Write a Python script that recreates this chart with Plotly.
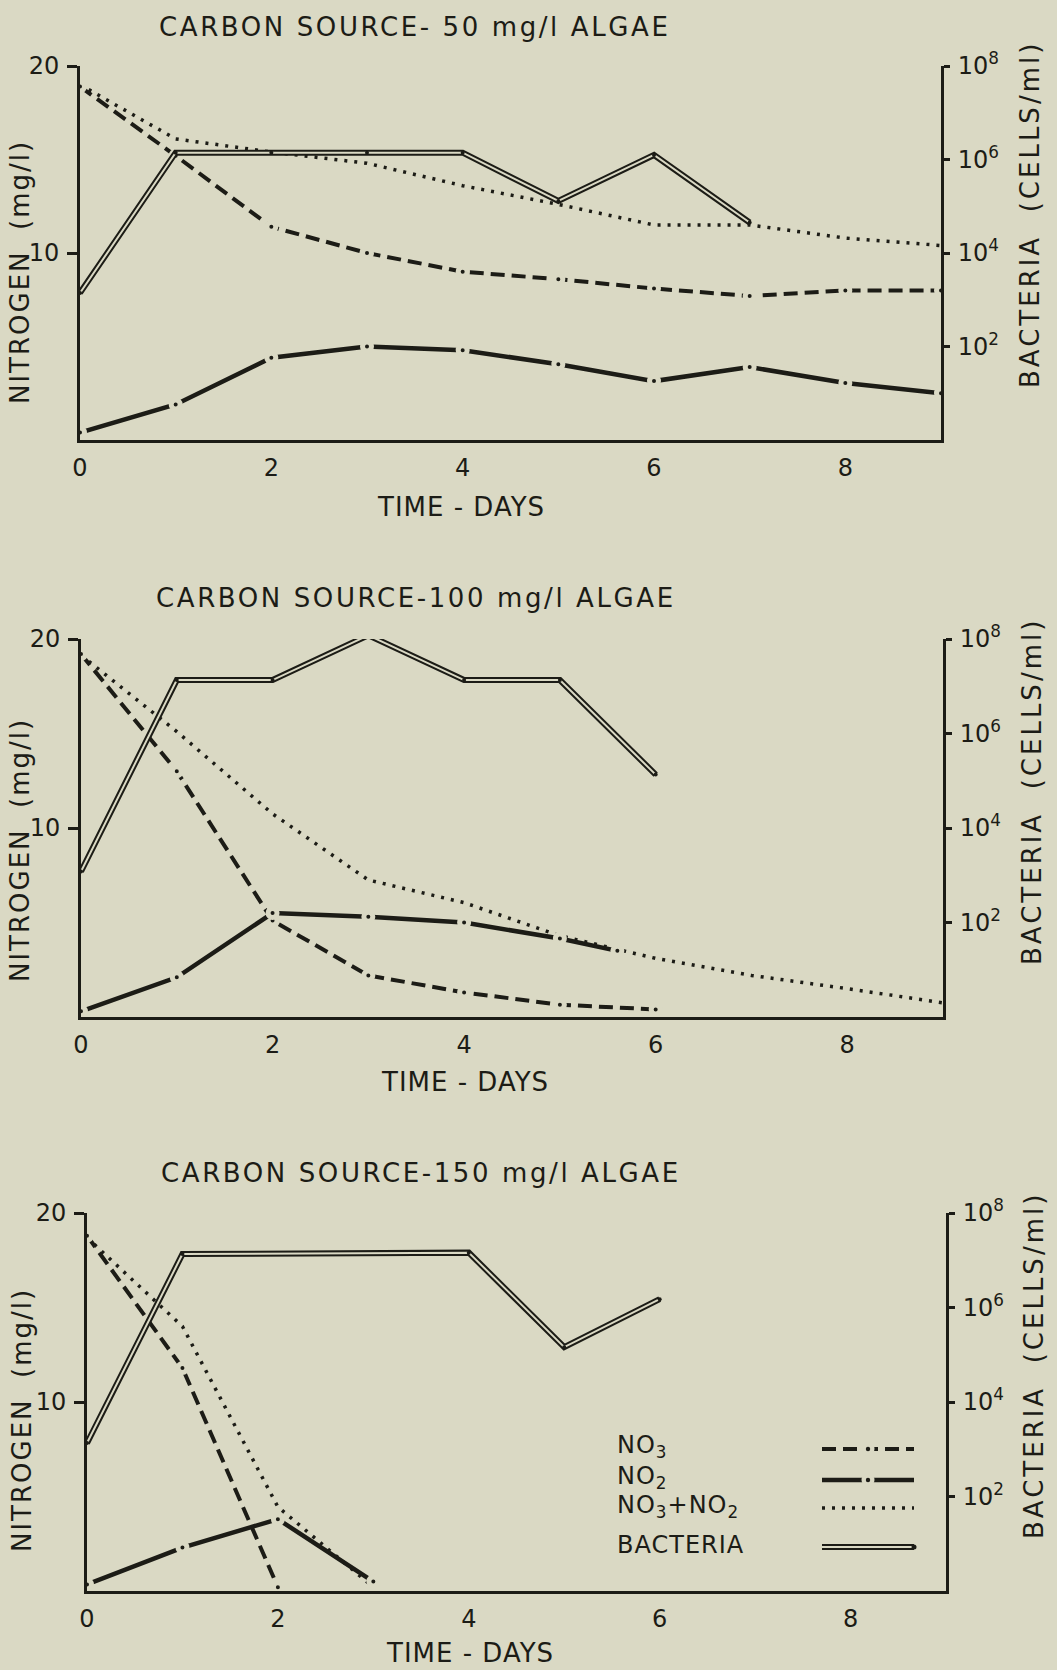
import plotly.graph_objects as go

# ---------------- data ----------------
# Carbon source 50 mg/l algae
days_50 = [0, 1, 2, 3, 4, 5, 6, 7, 8, 9]
no3_50 = [18.9, 15.2, 11.4, 10.0, 9.0, 8.6, 8.1, 7.7, 8.0, 8.0]
no2_50 = [0.4, 1.9, 4.4, 5.0, 4.8, 4.05, 3.15, 3.9, 3.05, 2.5]
sum_50 = [19.0, 16.1, 15.4, 14.8, 13.6, 12.6, 11.5, 11.5, 10.8, 10.4]
bact_days_50 = [0, 1, 2, 3, 4, 5, 6, 7]
bact_50 = [1.4e3, 1.4e6, 1.4e6, 1.4e6, 1.4e6, 1.3e5, 1.25e6, 4.5e4]

# Carbon source 100 mg/l algae
no3_days_100 = [0, 1, 2, 3, 4, 5, 6]
no3_100 = [19.2, 13.0, 5.1, 2.2, 1.3, 0.65, 0.4]
no2_days_100 = [0, 1, 2, 3, 4, 5, 5.6]
no2_100 = [0.3, 2.1, 5.5, 5.3, 5.0, 4.15, 3.5]
sum_days_100 = [0, 1, 2, 3, 4, 5, 6, 7, 8, 9]
sum_100 = [19.15, 15.1, 10.75, 7.25, 6.05, 4.3, 3.1, 2.2, 1.5, 0.75]
bact_days_100 = [0, 1, 2, 3, 4, 5, 6]
bact_100 = [1.2e3, 1.35e7, 1.35e7, 1.2e8, 1.35e7, 1.35e7, 1.35e5]

# Carbon source 150 mg/l algae
no3_days_150 = [0, 1, 2]
no3_150 = [18.8, 11.8, 0.2]
no2_days_150 = [0, 1, 2, 3]
no2_150 = [0.35, 2.3, 3.8, 0.5]
sum_days_150 = [0, 1, 2, 3]
sum_150 = [18.7, 14.0, 4.45, 0.2]
bact_days_150 = [0, 1, 4, 5, 6]
bact_150 = [1.35e3, 1.35e7, 1.45e7, 1.45e5, 1.5e6]

titles = ["CARBON SOURCE- 50 mg/l ALGAE",
          "CARBON SOURCE-100 mg/l ALGAE",
          "CARBON SOURCE-150 mg/l ALGAE"]
x_ticks = [0, 2, 4, 6, 8]
n_ticks = [10, 20]
b_ticks = [1e2, 1e4, 1e6, 1e8]
b_ticktext = ["10<sup>2</sup>", "10<sup>4</sup>", "10<sup>6</sup>", "10<sup>8</sup>"]
legend_labels = ["NO<sub>3</sub>", "NO<sub>2</sub>",
                 "NO<sub>3</sub>+NO<sub>2</sub>", "BACTERIA"]

# ---------------- styling / geometry ----------------
W, H = 1057, 1670
BG = "#dad9c4"
INK = "#1c1c16"
FONT = "DejaVu Sans"


def fx(px):
    return px / W


def fy(py):
    return 1 - py / H


def spaced(text, ls):
    return f'<span style="letter-spacing:{ls}px">{text}</span>'


# plot frames (pixels): left axis, right axis, top (20 / 1e8), baseline
frames = [
    dict(x0=80, x1=941, top=66, bot=440, title=(414, 27), xlab=(461, 507),
         ylab=(20, 272), blab=(1030, 215)),
    dict(x0=81, x1=943, top=639, bot=1017, title=(416, 598), xlab=(465, 1082),
         ylab=(20, 850), blab=(1032, 792)),
    dict(x0=87, x1=946, top=1213, bot=1591, title=(421, 1173), xlab=(470, 1653),
         ylab=(22, 1420), blab=(1034, 1366)),
]

panels = [
    dict(no3=(days_50, no3_50), no2=(days_50, no2_50), tot=(days_50, sum_50),
         bact=(bact_days_50, bact_50)),
    dict(no3=(no3_days_100, no3_100), no2=(no2_days_100, no2_100),
         tot=(sum_days_100, sum_100), bact=(bact_days_100, bact_100)),
    dict(no3=(no3_days_150, no3_150), no2=(no2_days_150, no2_150),
         tot=(sum_days_150, sum_150), bact=(bact_days_150, bact_150)),
]

vertex_marker = dict(symbol="circle", size=9, color=INK, line=dict(color=BG, width=5))

fig = go.Figure()
layout = dict(
    width=W, height=H, autosize=False,
    margin=dict(l=0, r=0, t=0, b=0, autoexpand=False),
    paper_bgcolor=BG, plot_bgcolor=BG,
    showlegend=False,
    font=dict(family=FONT, color=INK, size=24),
)
annotations = []
shapes = []

for i, (fr, pdata) in enumerate(zip(frames, panels), start=1):
    xa = "x" if i == 1 else f"x{i}"
    yl_idx, yr_idx = 2 * i - 1, 2 * i
    yl = "y" if yl_idx == 1 else f"y{yl_idx}"
    yr = f"y{yr_idx}"
    xkey = "xaxis" if i == 1 else f"xaxis{i}"
    ylkey = "yaxis" if yl_idx == 1 else f"yaxis{yl_idx}"
    yrkey = f"yaxis{yr_idx}"
    ydom = [fy(fr["bot"]), fy(fr["top"])]

    layout[xkey] = dict(
        domain=[fx(fr["x0"]), fx(fr["x1"])], range=[0, 9], anchor=yl,
        showline=True, linewidth=3, linecolor=INK, mirror=False,
        tickvals=x_ticks, ticks="", showgrid=False, zeroline=False,
        tickfont=dict(size=24), ticklabelstandoff=4, fixedrange=True,
    )
    layout[ylkey] = dict(
        domain=ydom, range=[0, 20], anchor=xa,
        showline=True, linewidth=3, linecolor=INK,
        tickvals=n_ticks, ticks="outside", ticklen=10, tickwidth=2.5, tickcolor=INK,
        showgrid=False, zeroline=False, tickfont=dict(size=24),
        ticklabelstandoff=3, fixedrange=True,
    )
    layout[yrkey] = dict(
        overlaying=yl, side="right", anchor=xa, type="log", range=[0, 8],
        showline=True, linewidth=3, linecolor=INK,
        tickvals=b_ticks, ticktext=b_ticktext, ticks="outside", ticklen=6,
        tickwidth=2.5, tickcolor=INK, showgrid=False, zeroline=False,
        tickfont=dict(size=24), ticklabelstandoff=3, fixedrange=True,
    )

    # NO3 + NO2 (dotted)
    fig.add_trace(go.Scatter(
        x=pdata["tot"][0], y=pdata["tot"][1], xaxis=xa, yaxis=yl, mode="lines",
        line=dict(color=INK, width=3.5, dash="3px,7px"), hoverinfo="skip"))
    # NO3 (dashed, dot at each reading)
    fig.add_trace(go.Scatter(
        x=pdata["no3"][0], y=pdata["no3"][1], xaxis=xa, yaxis=yl, mode="lines+markers",
        line=dict(color=INK, width=4, dash="14px,7px"), marker=vertex_marker,
        hoverinfo="skip"))
    # NO2 (heavy line, dot at each reading)
    fig.add_trace(go.Scatter(
        x=pdata["no2"][0], y=pdata["no2"][1], xaxis=xa, yaxis=yl, mode="lines+markers",
        line=dict(color=INK, width=4.5), marker=vertex_marker, hoverinfo="skip"))
    # Bacteria (double line on the log axis)
    fig.add_trace(go.Scatter(
        x=pdata["bact"][0], y=pdata["bact"][1], xaxis=xa, yaxis=yr, mode="lines",
        line=dict(color=INK, width=6), hoverinfo="skip"))
    fig.add_trace(go.Scatter(
        x=pdata["bact"][0], y=pdata["bact"][1], xaxis=xa, yaxis=yr, mode="lines+markers",
        line=dict(color=BG, width=2), marker=dict(size=4, color=INK),
        hoverinfo="skip"))

    tx, ty = fr["title"]
    annotations.append(dict(
        text=spaced(titles[i - 1], 2.6), x=fx(tx), y=fy(ty), xref="paper", yref="paper",
        showarrow=False, xanchor="center", yanchor="middle", font=dict(size=26)))
    lx, ly = fr["xlab"]
    annotations.append(dict(
        text=spaced("TIME - DAYS", 1), x=fx(lx), y=fy(ly), xref="paper", yref="paper",
        showarrow=False, xanchor="center", yanchor="middle", font=dict(size=26)))
    nx, ny = fr["ylab"]
    annotations.append(dict(
        text=spaced("NITROGEN\u00a0\u00a0(mg/l)", 2), x=fx(nx), y=fy(ny),
        xref="paper", yref="paper", textangle=-90,
        showarrow=False, xanchor="center", yanchor="middle", font=dict(size=26)))
    bx, by = fr["blab"]
    annotations.append(dict(
        text=spaced("BACTERIA\u00a0\u00a0(CELLS/ml)", 3), x=fx(bx), y=fy(by),
        xref="paper", yref="paper", textangle=-90,
        showarrow=False, xanchor="center", yanchor="middle", font=dict(size=26)))

# ---------------- key (lower panel) ----------------
key_rows = [1446, 1477, 1506, 1545]
key_x_text = 615
key_x0, key_x1 = 822, 914
for lab, ry in zip(legend_labels, key_rows):
    annotations.append(dict(
        text=spaced(lab, 1), x=fx(key_x_text), y=fy(ry), xref="paper", yref="paper",
        showarrow=False, xanchor="left", yanchor="middle", font=dict(size=24)))


def seg(x0, x1, y, width, dash="solid", color=INK):
    shapes.append(dict(type="line", xref="paper", yref="paper",
                       x0=fx(x0), x1=fx(x1), y0=fy(y), y1=fy(y),
                       line=dict(color=color, width=width, dash=dash)))


def dot(xc, y, r, color):
    shapes.append(dict(type="circle", xref="paper", yref="paper",
                       x0=fx(xc - r), x1=fx(xc + r), y0=fy(y + r), y1=fy(y - r),
                       fillcolor=color, line=dict(width=0)))


mid = (key_x0 + key_x1) / 2
seg(key_x0, key_x1, key_rows[0] + 3, 4, dash="14px,7px")
dot(mid, key_rows[0] + 3, 6.5, BG)
dot(mid, key_rows[0] + 3, 2.2, INK)
seg(key_x0, key_x1, key_rows[1] + 3, 4.5)
dot(mid, key_rows[1] + 3, 6.5, BG)
dot(mid, key_rows[1] + 3, 2.2, INK)
seg(key_x0, key_x1, key_rows[2] + 2, 3.5, dash="3px,7px")
seg(key_x0, key_x1, key_rows[3] + 2, 6)
seg(key_x0, key_x1, key_rows[3] + 2, 2, color=BG)
dot(key_x1, key_rows[3] + 2, 2.5, INK)

layout["annotations"] = annotations
layout["shapes"] = shapes
fig.update_layout(**layout)

# page without the default body margin so the figure sits at the window origin
fig.write_html(
    "out.html",
    post_script="document.body.style.margin='0';document.body.style.background='%s';" % BG,
)
